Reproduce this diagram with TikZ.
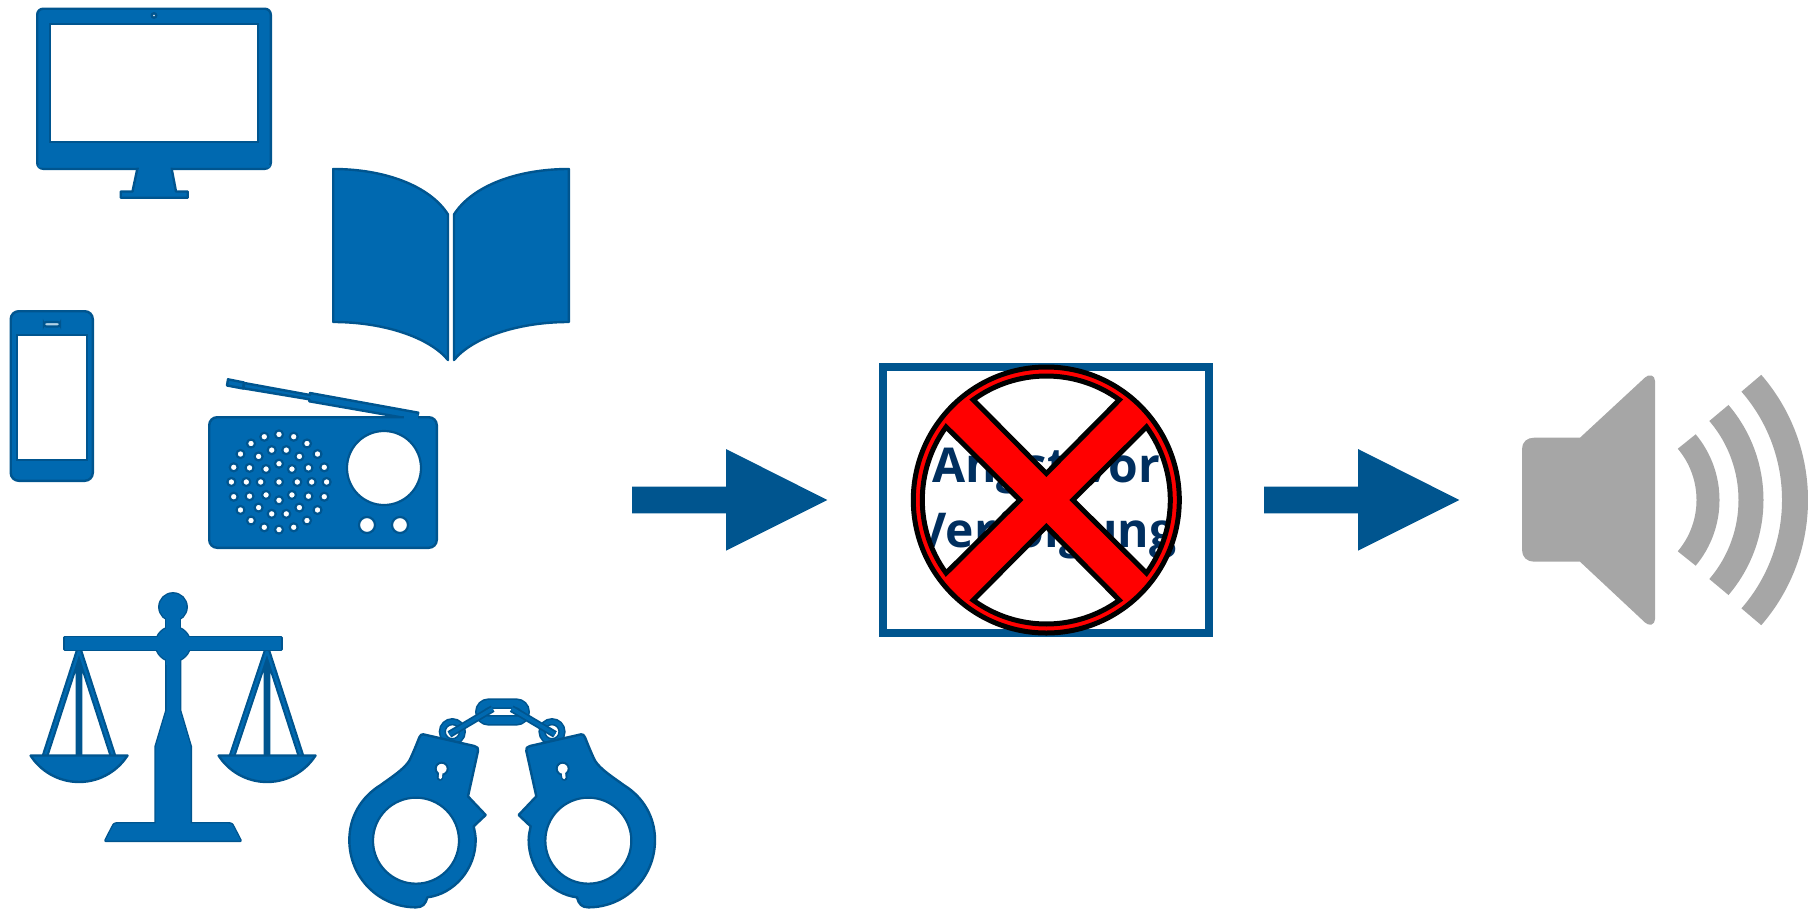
\documentclass[tikz,border=0pt]{standalone}
\usepackage{fontspec}
\usetikzlibrary{calc}
\setmainfont{Open Sans}
\definecolor{iblue}{HTML}{0069B0}
\definecolor{idark}{HTML}{00558F}
\definecolor{navy}{HTML}{002F5F}
\definecolor{spk}{HTML}{A6A6A6}
\tikzset{
  icon/.style={fill=iblue,draw=idark,line width=1.2pt,line join=round},
  hole/.style={fill=white,draw=idark,line width=1.1pt},
  screenbox/.style={fill=white,draw=idark,line width=1pt},
  bigarrow/.style={fill=idark},
  wave/.style={draw=spk},
  scaleedge/.style={draw=idark,line width=1.4pt,line join=round},
  scalefill/.style={fill=iblue},
}
\newcommand{\scaleparts}[1]{
  \path[#1] (173,607) circle[radius=13.5];
  \path[#1] (166,607) rectangle (180,665);
  \path[#1] (64.7,637.4) rectangle (281.3,649.6);
  \path[#1] (173,644) circle[radius=17];
  \path[#1] (166.5,655) -- (166.5,710.7) -- (155.7,746.7) -- (155.7,823.4) -- (118,823.4)
  .. controls (114,823.4) and (113,825) .. (112,828) -- (105.5,840.6) -- (240.5,840.6) -- (234,828)
  .. controls (233,825) and (232,823.4) .. (228,823.4) -- (190.7,823.4) -- (190.7,746.7) -- (180,710.7) -- (180,655) -- cycle;
}
\newcommand{\stringset}[4]{
  \draw[idark,line width=3.3pt] (#1,651) -- (#2,756) (#1,651) -- (#3,756) (#1,651) -- (#1,756);
  \draw[iblue,line width=1.2pt] (#1,651) -- (#2,756) (#1,651) -- (#3,756);
  \path[icon] (#4,755.5) -- ({#4+97},755.5) arc[start angle=32.7,end angle=147.3,radius=57.6] -- cycle;
}
\newcommand{\onecuff}{
  \draw[idark,line width=3.6pt] (337,155) circle[radius=30];
  \draw[iblue,line width=2pt] (337,155) circle[radius=30];
  \draw[idark,line width=3.6pt] (328,163) -- (458,86);
  \draw[iblue,line width=1.8pt] (328,163) -- (458,86);
  \path[icon] (250,163) -- (403,198) .. controls (412,200) and (416,205) .. (414,213)
    -- (384,349) -- (437,405) -- (401,439)
    .. controls (404,455) and (407,465) .. (407,480)
    .. controls (407,568) and (342,642) .. (262,652)
    .. controls (257,672) and (248,682) .. (228,682)
    .. controls (117,682) and (28,593) .. (28,480)
    .. controls (28,412) and (62,352) .. (122,315)
    .. controls (152,293) and (192,268) .. (208,242)
    .. controls (218,222) and (228,197) .. (238,172)
    .. controls (241,165) and (245,162) .. (250,163) -- cycle;
  \path[hole] (228,482) circle[radius=129];
  \draw[idark,line width=3.2pt,line cap=round] (302,270) -- (300,293);
  \path[fill=white,draw=idark,line width=1pt] (305,266) circle[radius=18];
  \draw[white,line width=1.6pt,line cap=round] (303,275) -- (301,293);
}
\begin{document}
\begin{tikzpicture}[x=0.5pt,y=-0.5pt]
\useasboundingbox (0,0) rectangle (1808,910);

% monitor
\path[icon,rounded corners=3pt] (37.2,8.7) rectangle (270.8,168.8);
\path[icon] (137.5,168) -- (132.5,191.5) -- (120.7,191.5) -- (120.7,197.7) -- (187.7,197.7) -- (187.7,191.5) -- (176,191.5) -- (171.5,168) -- cycle;
\fill[iblue] (38,165) rectangle (270,167.5) (139,167) rectangle (170.5,170);
\path[screenbox] (50.3,24) rectangle (258,142.3);
\path[fill=white,draw=idark,line width=1.2pt] (154,15.5) circle[radius=2.2];

% book
\path[icon] (333.2,169) .. controls (385,169) and (430,186) .. (448,214.5) -- (448,360) .. controls (430,338) and (385,322) .. (333.2,322) -- cycle;
\path[icon] (568.8,169) .. controls (517,169) and (472,186) .. (454,214.5) -- (454,360) .. controls (472,338) and (517,322) .. (568.8,322) -- cycle;

% phone
\path[icon,rounded corners=4pt] (10.7,311.2) rectangle (92.8,480.8);
\path[screenbox] (16.5,334.5) rectangle (86.5,460);
\path[fill=white!70!iblue,draw=idark,line width=1.1pt,rounded corners=1.2pt] (44,322) rectangle (60,326.5);

% radio
\path[icon] (244.3,383) -- (310,395) -- (310,393) -- (418.3,412.7) -- (416.7,418) -- (405,418) -- (309.3,401.3) -- (309.3,399.3) -- (243.3,388.3) -- cycle;
\path[icon] (228,379.3) -- (244,382.5) -- (243,388.5) -- (227,385.5) -- cycle;
\path[icon,rounded corners=4pt] (209.2,417.2) rectangle (436.8,547.8);
\fill[iblue] (404,414) rectangle (418,418.5);
\path[hole] (384,468) circle[radius=37];
\path[hole] (367,525) circle[radius=8];
\path[hole] (400,525) circle[radius=8];
\path[hole] (279,482) circle[radius=4];
\foreach \a in {0,45,...,315} \path[hole] ($(279,482)+(\a:18.3)$) circle[radius=4];
\foreach \i in {0,...,13} \path[hole] ($(279,482)+({\i*360/14}:32.7)$) circle[radius=4];
\foreach \i in {0,...,19} \path[hole] ($(279,482)+({\i*18}:47.6)$) circle[radius=4];

% scales
\stringset{79}{45}{113}{30.5}
\stringset{267}{232}{301}{218.5}
\scaleparts{scaleedge}
\scaleparts{scalefill}

% handcuffs
\begin{scope}[shift={(340,680)},scale=0.33333]
  \draw[idark,line width=5.2pt,rounded corners=4pt] (421,71) rectangle (554,121);
  \draw[iblue,line width=3.6pt,rounded corners=4pt] (421,71) rectangle (554,121);
  \onecuff
\end{scope}
\begin{scope}[shift={(664.33,680)},xscale=-0.33333,yscale=0.33333]
  \onecuff
\end{scope}

% arrows
\path[bigarrow] (632,486.7) -- (726,486.7) -- (726,449) -- (827.3,500) -- (726,550.7) -- (726,513.3) -- (632,513.3) -- cycle;
\path[bigarrow] (1264,486.7) -- (1358,486.7) -- (1358,449) -- (1459.3,500) -- (1358,550.7) -- (1358,513.3) -- (1264,513.3) -- cycle;

% central box and text
\path[draw=idark,line width=4pt] (883,366.7) rectangle (1209,633);
\node[text=navy,align=center,inner sep=0pt,font=\fontsize{24}{32.5}\selectfont\bfseries] (label) at (1046,504) {Angst vor\\Verfolgung};

% prohibition sign
\begin{scope}[shift={(1046.3,500)},yscale=-1]
  \path[fill=red,even odd rule,draw=black,line width=2.5pt,miter limit=10]
    (0,0) circle[radius=133]
    \foreach \a in {0,90,180,270} {
      (\a:26.5) -- ({\a-36.1}:124) arc[start angle={\a-36.1},end angle={\a+36.1},radius=124] -- cycle
    };
\end{scope}

% speaker
\path[fill=spk] (1534,437.7) -- (1580,437.7) -- (1645,377.5) .. controls (1649,373.5) and (1655,375) .. (1655,381)
  -- (1655,619) .. controls (1655,625) and (1649,626.5) .. (1645,622.5) -- (1580,561.7) -- (1534,561.7)
  .. controls (1527,561.7) and (1522,557) .. (1522,550) -- (1522,449) .. controls (1522,442) and (1527,437.7) .. (1534,437.7) -- cycle;
\begin{scope}[shift={(1617,500)},yscale=-1]
  \draw[wave,line width=11.5pt] (-40:91) arc[start angle=-40,end angle=40,radius=91];
  \draw[wave,line width=12.5pt] (-40.5:134) arc[start angle=-40.5,end angle=40.5,radius=134];
  \draw[wave,line width=13pt] (-41:178) arc[start angle=-41,end angle=41,radius=178];
\end{scope}
\end{tikzpicture}
\end{document}
